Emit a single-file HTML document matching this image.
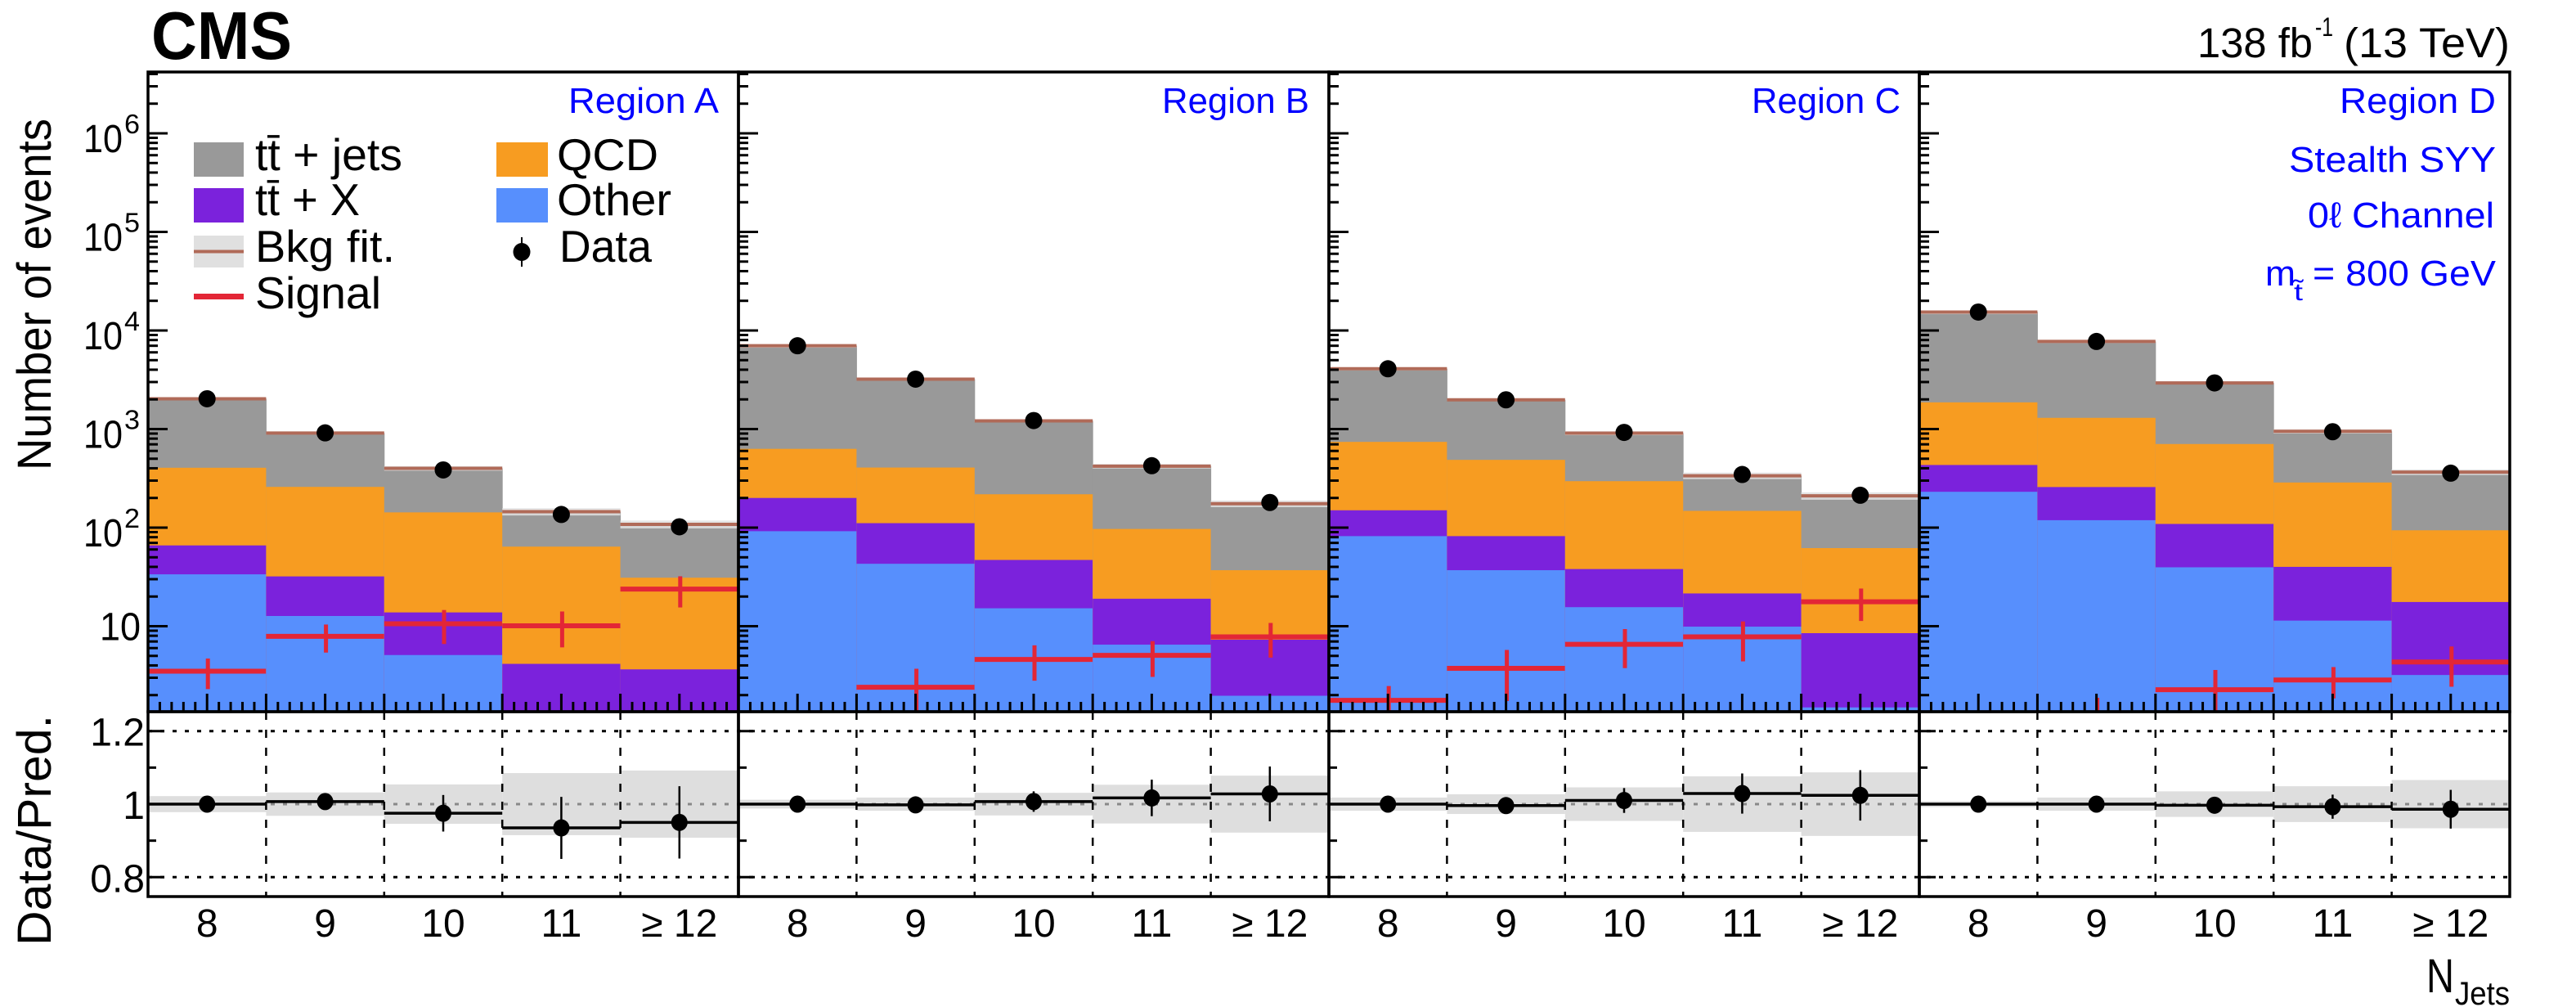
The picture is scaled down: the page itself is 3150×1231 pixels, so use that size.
<!DOCTYPE html>
<html><head><meta charset="utf-8"><style>
html,body{margin:0;padding:0;background:#fff;}
svg{display:block;font-family:"Liberation Sans",sans-serif;}
</style></head><body>
<svg id="chart" width="3150" height="1231" viewBox="0 0 3150 1231" xmlns="http://www.w3.org/2000/svg">
<defs>
<clipPath id="mainClip"><rect x="181" y="88" width="2888" height="782"/></clipPath>
<clipPath id="ratioClip"><rect x="181" y="870" width="2888" height="226"/></clipPath>
</defs>
<rect x="0" y="0" width="3150" height="1231" fill="#fff"/>
<g id="mainMarks" clip-path="url(#mainClip)"></g>
<g id="ratioMarks" clip-path="url(#ratioClip)"></g>
<g id="axes"></g>

<text x="185" y="72" font-size="83" font-weight="bold" textLength="172" lengthAdjust="spacingAndGlyphs">CMS</text>
<g>
<text x="2687" y="70" font-size="51" textLength="141" lengthAdjust="spacingAndGlyphs">138 fb</text>
<text x="2831" y="44" font-size="32" textLength="22" lengthAdjust="spacingAndGlyphs">-1</text>
<text x="2866" y="70" font-size="51" textLength="203" lengthAdjust="spacingAndGlyphs">(13 TeV)</text>
</g>

<g fill="#0000ff" font-size="44">
<text x="695" y="138" textLength="184" lengthAdjust="spacingAndGlyphs">Region A</text>
<text x="1421" y="138" textLength="180" lengthAdjust="spacingAndGlyphs">Region B</text>
<text x="2142" y="138" textLength="182" lengthAdjust="spacingAndGlyphs">Region C</text>
<text x="2861" y="138" textLength="191" lengthAdjust="spacingAndGlyphs">Region D</text>
<text x="2799" y="210" textLength="253" lengthAdjust="spacingAndGlyphs">Stealth SYY</text>
<text x="2822" y="278" textLength="228" lengthAdjust="spacingAndGlyphs">0ℓ Channel</text>
<g>
<text x="2770" y="349" textLength="37" lengthAdjust="spacingAndGlyphs">m</text>
<text x="2805" y="367" font-size="30" textLength="11" lengthAdjust="spacingAndGlyphs">t̃</text>
<text x="2828" y="349" textLength="224" lengthAdjust="spacingAndGlyphs">= 800 GeV</text>
</g>
</g>

<g>
<g>
<rect x="237" y="174" width="61" height="42" fill="#999999"/>
<text x="312" y="208" font-size="55" textLength="180" lengthAdjust="spacingAndGlyphs">tt̄ + jets</text></g>
<g>
<rect x="237" y="230" width="61" height="42" fill="#7b22dc"/>
<text x="312" y="263" font-size="55" textLength="128" lengthAdjust="spacingAndGlyphs">tt̄ + X</text></g>
<g>
<rect x="237" y="288" width="61" height="39" fill="#e0e0e0"/>
<rect x="237" y="305.5" width="61" height="4" fill="#b06a58"/>
<text x="312" y="320" font-size="55" textLength="171" lengthAdjust="spacingAndGlyphs">Bkg fit.</text></g>
<g>
<rect x="237" y="359" width="61" height="7" fill="#e32636"/>
<text x="312" y="377" font-size="55" textLength="154" lengthAdjust="spacingAndGlyphs">Signal</text></g>
<g>
<rect x="607" y="174" width="63" height="42" fill="#f79c21"/>
<text x="681" y="208" font-size="55" textLength="124" lengthAdjust="spacingAndGlyphs">QCD</text></g>
<g>
<rect x="607" y="230" width="63" height="42" fill="#578ffd"/>
<text x="681" y="263" font-size="55" textLength="140" lengthAdjust="spacingAndGlyphs">Other</text></g>
<g>
<line x1="638" y1="290" x2="638" y2="326" stroke="#000" stroke-width="2"/>
<ellipse cx="638" cy="308" rx="10.5" ry="11" fill="#000"/>
<text x="684" y="320" font-size="55" textLength="113" lengthAdjust="spacingAndGlyphs">Data</text></g>
</g>

<text transform="translate(62,575) rotate(-90)" font-size="58" textLength="430" lengthAdjust="spacingAndGlyphs">Number of events</text>
<text transform="translate(62,1156) rotate(-90)" font-size="58" textLength="282" lengthAdjust="spacingAndGlyphs">Data/Pred.</text>
<g>
<text x="2967" y="1213" font-size="58" textLength="34" lengthAdjust="spacingAndGlyphs">N</text>
<text x="3002" y="1228" font-size="40" textLength="67" lengthAdjust="spacingAndGlyphs">Jets</text>
</g>
</svg>

<script>
// ---- data (per region A,B,C,D; bins 8,9,10,11,>=12) ----
const regions = ["A","B","C","D"];
const binLabels = ["8","9","10","11","≥ 12"];
const otherVals = [[33.6,12.7,5.1,1.0,1.0],[92,43,15.2,6.5,1.97],[82,37,15.6,9.9,1.5],[231,119,39.6,11.4,3.2]];
const ttxVals = [[32.4,19.3,8.7,3.15,2.65],[108,68,31.8,12.5,5.33],[68,45,22.4,11.6,7.0],[201,139,69.4,28.6,14.4]];
const qcdVals = [[339,227,129,60,27.4],[430,296,171,78,29.7],[591,405,258,126.5,53.5],[1434,1042,596,247,76.4]];
const ttjetsVals = [[1625,651,257,81,77],[6370,2803,992,323,138],[3349,1493,612,188,148],[13514,6440,2235,661,272]];
const dataVals = [[2030,915,385,136,102],[7000,3210,1220,425,180],[4090,1980,925,346,213],[15380,7740,2940,940,357]];
const signalVals = [[3.5,7.9,10.6,10.1,23.8],[0.9,2.4,4.6,5.06,7.8],[1.77,3.74,6.56,7.8,17.7],[0.5,1.1,2.27,2.85,4.33]];
const signalErr = [[1.2,2.5,4,4,8.3],[0.4,1.3,1.8,2.0,3.0],[0.7,2.0,2.8,3.4,6.4],[0.3,0.78,1.33,1.0,1.9]];
const ratioVals = [[1.0,1.007,0.975,0.935,0.95],[1.0,0.998,1.007,1.017,1.028],[1.0,0.996,1.01,1.029,1.024],[1.0,1.0,0.997,0.993,0.986]];
const ratioErr = [[0.01,0.02,0.05,0.085,0.099],[0.006,0.012,0.028,0.05,0.075],[0.01,0.015,0.034,0.055,0.069],[0.005,0.01,0.018,0.033,0.053]];
const bandUnc = [[0.022,0.032,0.054,0.085,0.092],[0.012,0.018,0.031,0.053,0.078],[0.018,0.027,0.046,0.076,0.087],[0.008,0.018,0.035,0.049,0.066]];
const logTicks = [1,2,3,4,5,6];
const ratioTicks = ["0.8","1","1.2"];

// ---- geometry ----
const NS="http://www.w3.org/2000/svg";
const XL=181, PW=722, NB=5, BW=PW/NB, TOP=88, MB=870, RB=1096, XR=XL+4*PW;
function xb(p,i){return XL+p*PW+i*BW;}
function ly(v){return 765.5-120.5*(Math.log10(Math.max(v,1e-3))-1);}
function ry(r){return 983-(r-1)*446.5;}
function mk(tag,attrs,parent){const e=document.createElementNS(NS,tag);for(const k in attrs)e.setAttribute(k,attrs[k]);parent.appendChild(e);return e;}
const mainG=document.getElementById('mainMarks'), ratioG=document.getElementById('ratioMarks'), axG=document.getElementById('axes');
const colors={ttjets:"#999999",qcd:"#f79c21",ttx:"#7b22dc",other:"#578ffd"};

for(let p=0;p<4;p++){
  for(let i=0;i<NB;i++){
    const x0=xb(p,i), x1=x0+BW, xc=x0+BW/2;
    const o=otherVals[p][i], t=ttxVals[p][i], q=qcdVals[p][i], j=ttjetsVals[p][i];
    const total=o+t+q+j;
    const layers=[["ttjets",total],["qcd",o+t+q],["ttx",o+t],["other",o]];
    for(const [nm,top] of layers){
      const y=ly(top);
      const r=mk('rect',{x:x0,y:y,width:BW+0.5,height:Math.max(0,MB-y),fill:colors[nm]},mainG);
      
      
    }
    const u=bandUnc[p][i];
    const by1=ly(total*(1+u)), by0=ly(total*(1-u));
    const band=mk('rect',{x:x0,y:by1,width:BW,height:Math.max(by0-by1,3),fill:"#e0e0e0",opacity:"0.85"},mainG);
    
    
    const fl=mk('line',{x1:x0,x2:x1,y1:ly(total),y2:ly(total),stroke:"#b06a58","stroke-width":4},mainG);
    
    
    // signal
    const s=signalVals[p][i], se=signalErr[p][i];
    const sg=mk('g',{},mainG);
    
    
    mk('line',{x1:x0,x2:x1,y1:ly(s),y2:ly(s),stroke:"#e32636","stroke-width":6},sg);
    mk('line',{x1:xc+1,x2:xc+1,y1:ly(s+se),y2:ly(Math.max(s-se,0.01)),stroke:"#e32636","stroke-width":5},sg);
    // data
    const d=dataVals[p][i], de=Math.sqrt(d);
    const dg=mk('g',{},mainG);
    
    
    mk('line',{x1:xc,x2:xc,y1:ly(d+de),y2:ly(d-de),stroke:"#000","stroke-width":2},dg);
    mk('ellipse',{cx:xc,cy:ly(d),rx:10.5,ry:10.5,fill:"#000"},dg);

    // ratio band
    const rb=mk('rect',{x:x0,y:ry(1+u),width:BW,height:ry(1-u)-ry(1+u),fill:"#dedede"},ratioG);
    
    
  }
}
// ratio grid lines
for(const [r,col] of [[1.2,"#000"],[0.8,"#000"],[1.0,"#888"]]){
  const l=mk('line',{x1:XL,x2:XR,y1:ry(r),y2:ry(r),stroke:col,"stroke-width":3,"stroke-dasharray":"5 10"},ratioG);
  
  
}
for(let p=0;p<4;p++){
  for(let i=1;i<NB;i++){
    const l=mk('line',{x1:xb(p,i),x2:xb(p,i),y1:MB,y2:RB,stroke:"#000","stroke-width":2.5,"stroke-dasharray":"10 12"},ratioG);
    
    
  }
  for(let i=0;i<NB;i++){
    const x0=xb(p,i), xc=x0+BW/2, r=ratioVals[p][i], e=ratioErr[p][i];
    const g=mk('g',{},ratioG);
    
    
    mk('line',{x1:x0,x2:x0+BW,y1:ry(r),y2:ry(r),stroke:"#000","stroke-width":3.5},g);
    mk('line',{x1:xc,x2:xc,y1:ry(r+e),y2:ry(r-e),stroke:"#000","stroke-width":2.5},g);
    mk('ellipse',{cx:xc,cy:ry(r),rx:10,ry:10.5,fill:"#000"},g);
  }
}
// axes / frames / ticks
for(let p=0;p<4;p++){
  const px=XL+p*PW;
  // y log ticks
  for(let dec=0;dec<=6;dec++){
    for(let m=1;m<10;m++){
      const v=m*Math.pow(10,dec), y=ly(v);
      if(y<TOP+2||y>MB-2) continue;
      const t=mk('line',{x1:px,x2:px+(m===1?24:12),y1:y,y2:y,stroke:"#000","stroke-width":3},axG);
      
      
    }
  }
  // ratio y ticks
  for(const [r,len] of [[1.2,20],[1.1,10],[1.0,20],[0.9,10],[0.8,20]]){
    const t=mk('line',{x1:px,x2:px+len,y1:ry(r),y2:ry(r),stroke:"#000","stroke-width":3},axG);
    
    
  }
  // x ticks
  for(let k=0;k<=NB*10;k++){
    const x=px+k*BW/10;
    const len=(k%5===0)?22:12;
    const t=mk('line',{x1:x,x2:x,y1:MB,y2:MB-len,stroke:"#000","stroke-width":3},axG);
    
    
  }
  // bin labels
  for(let i=0;i<NB;i++){
    const tx=mk('text',{x:xb(p,i)+BW/2,y:1145,"font-size":48,"text-anchor":"middle"},axG);
    tx.textContent=binLabels[i];
    
    
  }
  // frames
  const f1=mk('rect',{x:px,y:TOP,width:PW,height:MB-TOP,fill:"none",stroke:"#000","stroke-width":3.5},axG);
  
  
  const f2=mk('rect',{x:px,y:MB,width:PW,height:RB-MB,fill:"none",stroke:"#000","stroke-width":3.5},axG);
  
  
}
// y tick labels (left)
for(const d of logTicks){
  const y=ly(Math.pow(10,d));
  if(d===1){
    const t=mk('text',{x:172,y:y+17,"font-size":48,"text-anchor":"end",textLength:50,lengthAdjust:"spacingAndGlyphs"},axG);
    t.textContent="10";
    
    
  } else {
    const g=mk('g',{},axG);
    
    
    const a=mk('text',{x:102,y:y+23,"font-size":48,textLength:48,lengthAdjust:"spacingAndGlyphs"},g);
    a.textContent="10";
    const b=mk('text',{x:152,y:y,"font-size":33,textLength:19,lengthAdjust:"spacingAndGlyphs"},g);
    b.textContent=String(d);
  }
}
for(const s of ratioTicks){
  const r=parseFloat(s);
  const t=mk('text',{x:177,y:ry(r)+18,"font-size":48,"text-anchor":"end"},axG);
  t.textContent=s;
  
  
}
</script>
</body></html>
